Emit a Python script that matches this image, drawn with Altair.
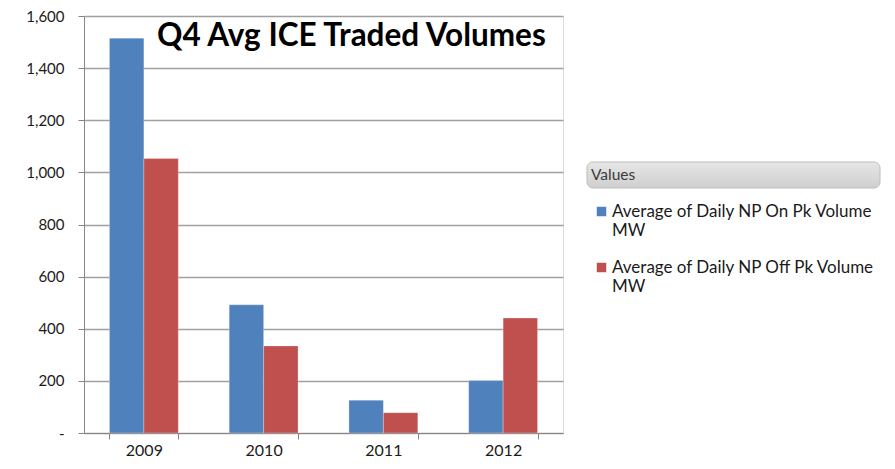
import altair as alt
import pandas as pd

# ---- data ----
years = ["2009", "2010", "2011", "2012"]
series_names = ["Average of Daily NP On Pk Volume MW", "Average of Daily NP Off Pk Volume MW"]
on_pk = [1515, 492, 126, 201]
off_pk = [1053, 334, 78, 441]
y_ticks = [0, 200, 400, 600, 800, 1000, 1200, 1400, 1600]
series_colors = ["#4F81BD", "#C0504D"]
title_text = "Q4 Avg ICE Traded Volumes"
legend_header = "Values"

rows = []
for s, vals in zip(series_names, [on_pk, off_pk]):
    for yr, v in zip(years, vals):
        rows.append({"year": yr, "series": s, "value": v})
df = pd.DataFrame(rows)

FONT = "Lato"
W, H = 479, 417

bars = alt.Chart(df).mark_bar(stroke="#ffffff", strokeOpacity=0.35, strokeWidth=0.8).encode(
    x=alt.X("year:N", sort=years,
            scale=alt.Scale(paddingInner=0.425, paddingOuter=0.2125),
            axis=alt.Axis(title=None, labelAngle=0, tickBand="extent", tickSize=6,
                          domainColor="#868686", tickColor="#868686",
                          labelFont=FONT, labelFontSize=16, labelColor="#1a1a1a",
                          labelPadding=3, grid=False)),
    xOffset=alt.XOffset("series:N", sort=series_names),
    y=alt.Y("value:Q",
            scale=alt.Scale(domain=[0, 1600], nice=False),
            axis=alt.Axis(title=None, values=y_ticks, tickSize=6,
                          labelExpr="datum.value == 0 ? '-' : format(datum.value, ',')",
                          labelFont=FONT, labelFontSize=15, labelColor="#1a1a1a",
                          labelPadding=14,
                          domainColor="#868686", tickColor="#868686",
                          gridColor="#a0a0a0", gridWidth=1.3)),
    color=alt.Color("series:N", sort=series_names,
                    scale=alt.Scale(domain=series_names, range=series_colors),
                    legend=alt.Legend(title=None, orient="none", legendX=509, legendY=187,
                                      symbolType="square", symbolSize=90, symbolStrokeWidth=0,
                                      labelFont=FONT, labelFontSize=17, labelColor="#1a1a1a",
                                      labelOffset=2, labelLimit=400, rowPadding=19,
                                      labelExpr="[substring(datum.label, 0, length(datum.label) - 3), 'MW']")),
)

header_df = pd.DataFrame({"t": [legend_header]})
header_box = alt.Chart(header_df).mark_rect(
    cornerRadius=6, stroke="#bdbdbd", strokeWidth=1,
    color=alt.Gradient(gradient="linear", x1=0, y1=0, x2=0, y2=1,
                       stops=[alt.GradientStop(color="#e6e6e6", offset=0),
                              alt.GradientStop(color="#cfcfcf", offset=1)])
).encode(x=alt.value(503), x2=alt.value(796), y=alt.value(146), y2=alt.value(172))
header_text = alt.Chart(header_df).mark_text(
    align="left", baseline="middle", font=FONT, fontSize=15.5, color="#3a3a3a"
).encode(x=alt.value(507), y=alt.value(159), text="t:N")

title_df = pd.DataFrame({"t": [title_text]})
title = alt.Chart(title_df).mark_text(
    align="left", baseline="alphabetic", font=FONT, fontSize=31.5, fontWeight="bold", color="#000000"
).encode(x=alt.value(73), y=alt.value(30), text="t:N")

chart = alt.layer(bars, header_box, header_text, title).properties(
    width=W, height=H,
    autosize=alt.AutoSizeParams(type="none"),
    padding={"left": 76, "top": 8, "right": 324, "bottom": 28},
).configure_view(stroke=None).configure(background="#ffffff")

chart.save("out.html", embed_options={"renderer": "svg", "actions": False})
